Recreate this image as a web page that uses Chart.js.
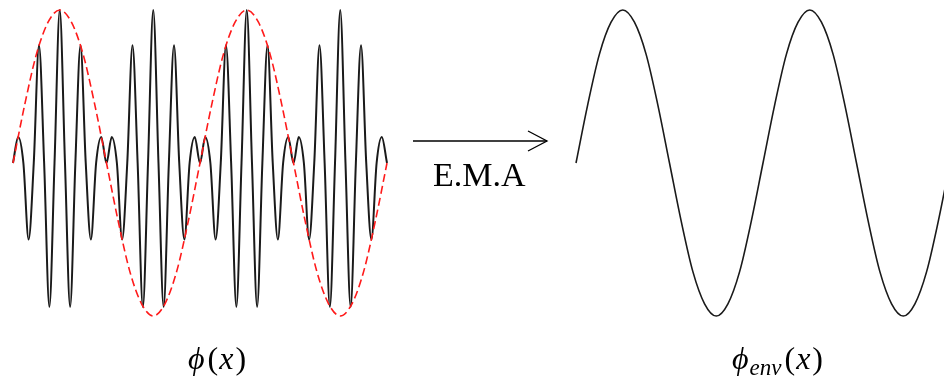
<!DOCTYPE html>
<html>
<head>
<meta charset="utf-8">
<title>φ(x) → E.M.A → φ_env(x)</title>
<script src="https://cdn.jsdelivr.net/npm/chart.js@4.4.1/dist/chart.umd.min.js"></script>
<style>
  html, body { margin: 0; padding: 0; background: #ffffff; }
  body { width: 944px; height: 378px; position: relative; overflow: hidden; }
  canvas { position: absolute; }
  #signal { left: 7px; top: 4px; }
  #envelope { left: 570px; top: 4px; }
  #notes { position: absolute; left: 0; top: 0; }
</style>
</head>
<body>
<canvas id="signal" width="386" height="318"></canvas>
<canvas id="envelope" width="386" height="318"></canvas>
<svg id="notes" width="944" height="378" xmlns="http://www.w3.org/2000/svg">
  <g stroke="#000" stroke-width="1.3" fill="none">
    <line x1="413" y1="141" x2="547" y2="141"/>
    <polyline points="528,131 547,141 528,151" stroke-linejoin="miter"/>
  </g>
  <text x="433" y="186" font-family="Liberation Serif, DejaVu Serif, serif" font-size="34" fill="#000">E.M.A</text>
  <text x="188" y="369" font-family="Liberation Serif, DejaVu Serif, serif" font-size="32" fill="#000"><tspan font-style="italic">ϕ</tspan><tspan dx="3">(</tspan><tspan font-style="italic" dx="1">x</tspan><tspan dx="2">)</tspan></text>
  <text x="732" y="369" font-family="Liberation Serif, DejaVu Serif, serif" font-size="32" fill="#000"><tspan font-style="italic">ϕ</tspan><tspan font-style="italic" font-size="23" dy="6" dx="1">env</tspan><tspan dy="-6" dx="3">(</tspan><tspan font-style="italic" dx="1">x</tspan><tspan dx="2">)</tspan></text>
</svg>
<script>
// Position along the signal, in units of half an envelope period (0 … 4).
const phiX = [
  0, 0.056, 0.111, 0.167, 0.222, 0.278, 0.333, 0.389, 0.444, 0.5, 0.556, 0.611, 0.667, 0.722, 0.778, 0.833, 0.889, 0.944,
  1, 1.056, 1.111, 1.167, 1.222, 1.278, 1.333, 1.389, 1.444, 1.5, 1.556, 1.611, 1.667, 1.722, 1.778, 1.833, 1.889, 1.944,
  2, 2.056, 2.111, 2.167, 2.222, 2.278, 2.333, 2.389, 2.444, 2.5, 2.556, 2.611, 2.667, 2.722, 2.778, 2.833, 2.889, 2.944,
  3, 3.056, 3.111, 3.167, 3.222, 3.278, 3.333, 3.389, 3.444, 3.5, 3.556, 3.611, 3.667, 3.722, 3.778, 3.833, 3.889, 3.944,
  4
];

// φ(x): fast oscillation, crests, troughs and crossings.
const phiY = [
  0, 0.17, 0, -0.50, 0, 0.77, 0, -0.94, 0, 1.00, 0, -0.94, 0, 0.77, 0, -0.50, 0, 0.17,
  0, 0.17, 0, -0.50, 0, 0.77, 0, -0.94, 0, 1.00, 0, -0.94, 0, 0.77, 0, -0.50, 0, 0.17,
  0, 0.17, 0, -0.50, 0, 0.77, 0, -0.94, 0, 1.00, 0, -0.94, 0, 0.77, 0, -0.50, 0, 0.17,
  0, 0.17, 0, -0.50, 0, 0.77, 0, -0.94, 0, 1.00, 0, -0.94, 0, 0.77, 0, -0.50, 0, 0.17,
  0
];

// Envelope positions (same units).
const envX = [
  0, 0.125, 0.25, 0.375, 0.5, 0.625, 0.75, 0.875,
  1, 1.125, 1.25, 1.375, 1.5, 1.625, 1.75, 1.875,
  2, 2.125, 2.25, 2.375, 2.5, 2.625, 2.75, 2.875,
  3, 3.125, 3.25, 3.375, 3.5, 3.625, 3.75, 3.875,
  4
];

// φ_env(x): the slow envelope.
const envY = [
  0, 0.38, 0.71, 0.92, 1.00, 0.92, 0.71, 0.38,
  0, -0.38, -0.71, -0.92, -1.00, -0.92, -0.71, -0.38,
  0, 0.38, 0.71, 0.92, 1.00, 0.92, 0.71, 0.38,
  0, -0.38, -0.71, -0.92, -1.00, -0.92, -0.71, -0.38,
  0
];

const toPoints = (xs, ys) => xs.map((x, i) => ({ x: x, y: ys[i] }));

function plotOptions() {
  return {
    responsive: false,
    animation: false,
    events: [],
    layout: { padding: 6 },
    plugins: { legend: { display: false }, tooltip: { enabled: false } },
    scales: {
      x: { type: 'linear', min: 0, max: 4, display: false },
      y: { type: 'linear', min: -1, max: 1, display: false }
    }
  };
}

// Left panel: φ(x) with its envelope dashed in red.
new Chart(document.getElementById('signal'), {
  type: 'line',
  data: {
    datasets: [
      {
        label: 'envelope',
        data: toPoints(envX, envY),
        borderColor: '#ff1a1a',
        borderWidth: 1.6,
        borderDash: [8, 4],
        pointRadius: 0,
        fill: false,
        clip: false,
        cubicInterpolationMode: 'monotone',
        order: 0
      },
      {
        label: 'φ(x)',
        data: toPoints(phiX, phiY),
        borderColor: '#1a1a1a',
        borderWidth: 2.0,
        borderJoinStyle: 'round',
        pointRadius: 0,
        fill: false,
        clip: false,
        cubicInterpolationMode: 'monotone',
        order: 1
      }
    ]
  },
  options: plotOptions()
});

// Right panel: φ_env(x).
new Chart(document.getElementById('envelope'), {
  type: 'line',
  data: {
    datasets: [
      {
        label: 'φ_env(x)',
        data: toPoints(envX, envY),
        borderColor: '#1a1a1a',
        borderWidth: 1.6,
        pointRadius: 0,
        fill: false,
        clip: false,
        cubicInterpolationMode: 'monotone'
      }
    ]
  },
  options: plotOptions()
});
</script>
</body>
</html>
